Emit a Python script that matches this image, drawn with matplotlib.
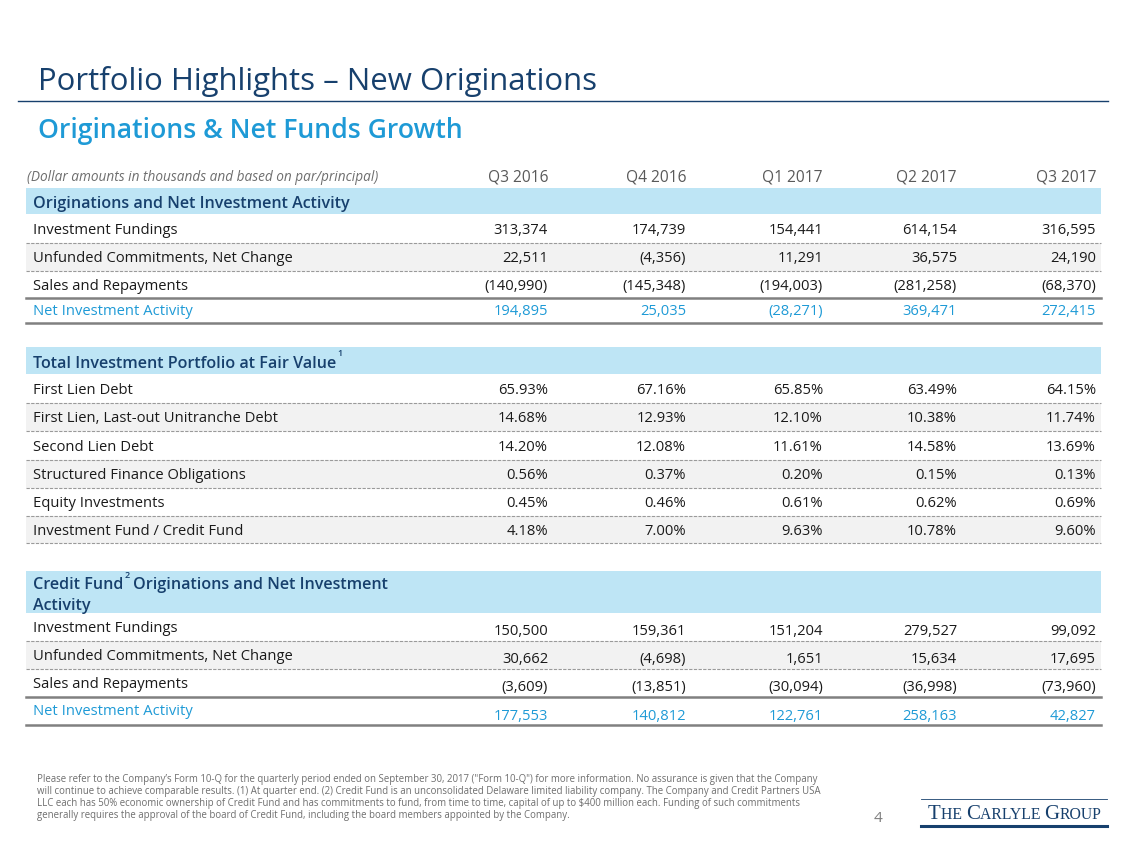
import matplotlib
matplotlib.use('Agg')
import matplotlib.pyplot as plt

# ---- data ----
quarters = ['Q3 2016', 'Q4 2016', 'Q1 2017', 'Q2 2017', 'Q3 2017']

orig_labels = ['Investment Fundings', 'Unfunded Commitments, Net Change', 'Sales and Repayments']
orig_fundings = [313374, 174739, 154441, 614154, 316595]
orig_unfunded = [22511, -4356, 11291, 36575, 24190]
orig_sales = [-140990, -145348, -194003, -281258, -68370]
orig_net = [194895, 25035, -28271, 369471, 272415]

port_labels = ['First Lien Debt', 'First Lien, Last-out Unitranche Debt', 'Second Lien Debt',
               'Structured Finance Obligations', 'Equity Investments', 'Investment Fund / Credit Fund']
first_lien = [65.93, 67.16, 65.85, 63.49, 64.15]
last_out = [14.68, 12.93, 12.10, 10.38, 11.74]
second_lien = [14.20, 12.08, 11.61, 14.58, 13.69]
structured = [0.56, 0.37, 0.20, 0.15, 0.13]
equity = [0.45, 0.46, 0.61, 0.62, 0.69]
credit_fund = [4.18, 7.00, 9.63, 10.78, 9.60]

cf_fundings = [150500, 159361, 151204, 279527, 99092]
cf_unfunded = [30662, -4698, 1651, 15634, 17695]
cf_sales = [-3609, -13851, -30094, -36998, -73960]
cf_net = [177553, 140812, 122761, 258163, 42827]

footnote = [
    "Please refer to the Company\u2019s Form 10-Q for the quarterly period ended on September 30, 2017 (\"Form 10-Q\") for more information. No assurance is given that the Company",
    "will continue to achieve comparable results. (1) At quarter end. (2) Credit Fund is an unconsolidated Delaware limited liability company. The Company and Credit Partners USA",
    "LLC each has 50% economic ownership of Credit Fund and has commitments to fund, from time to time, capital of up to $400 million each. Funding of such commitments",
    "generally requires the approval of the board of Credit Fund, including the board members appointed by the Company.",
]

# ---- style ----
plt.rcParams['font.family'] = ['Open Sans', 'DejaVu Sans']
NAVY = '#17406D'
BLUE = '#1E9AD6'
BAND = '#BEE5F5'
GREY_ROW = '#F2F2F2'
TXT = '#1A1A1A'
W, H = 1127, 846
LEFT, RIGHT = 26, 1101
COL_X = [548, 686, 823, 957, 1096]
FS = 10.6       # body font size
FS_HEAD = 11.6  # section header font size


def money(v):
    return '({:,})'.format(-v) if v < 0 else '{:,}'.format(v)


def pct(v):
    return '{:.2f}%'.format(v)


fig = plt.figure(figsize=(W / 100, H / 100), dpi=100)
ax = fig.add_axes([0, 0, 1, 1])
ax.set_xlim(0, W)
ax.set_ylim(H, 0)
ax.axis('off')
fig.canvas.draw()
rend = fig.canvas.get_renderer()


def right_edge(t):
    bb = t.get_window_extent(rend)
    return bb.x1


def band(y0, y1, color):
    ax.fill_between([LEFT, RIGHT], y0, y1, color=color, lw=0, zorder=0)


def hline(y, dashed=False):
    if dashed:
        ax.plot([LEFT, RIGHT], [y, y], color='#9A9A9A', lw=0.8, ls=(0, (3, 1.2)), zorder=2)
    else:
        ax.plot([LEFT, RIGHT], [y, y], color='#808080', lw=1.8, zorder=2)


def label(x, y, s, **kw):
    # y is the visual centre of the text line
    kw.setdefault('fontsize', FS)
    kw.setdefault('color', TXT)
    return ax.text(x, y + kw['fontsize'] * 0.5, s, va='baseline', **kw)


def rows(labels, series, fmt, top, heights, shade, val_dy=0):
    y = top
    for i, (lab, vals) in enumerate(zip(labels, series)):
        h = heights[i]
        if shade[i]:
            band(y, y + h, GREY_ROW)
        label(33, y + h / 2, lab)
        for x, v in zip(COL_X, vals):
            label(x, y + h / 2 + val_dy, fmt(v), ha='right')
        y += h
    return y


# title
label(38, 79, 'Portfolio Highlights \u2013 New Originations', fontsize=22.4, color=NAVY)
ax.plot([18, 1108], [101, 101], color=NAVY, lw=1)
label(38, 128, 'Originations & Net Funds Growth', fontsize=19.2, color=BLUE, fontweight='semibold')

# column header
label(27, 176, '(Dollar amounts in thousands and based on par/principal)', fontsize=9.8, color='#6E6E6E',
      style='italic')
for x, q in zip(COL_X, quarters):
    label(x, 176, q, fontsize=11.2, color='#595959', ha='right')

# section 1
band(188, 214, BAND)
label(33, 202, 'Originations and Net Investment Activity', fontsize=FS_HEAD, color=NAVY, fontweight='semibold')
y = rows(orig_labels, [orig_fundings, orig_unfunded, orig_sales], money, 214, [29, 28, 27],
         [False, True, False])
hline(243, True)
hline(271, True)
hline(y)
label(33, y + 12, 'Net Investment Activity', color=BLUE)
for x, v in zip(COL_X, orig_net):
    label(x, y + 12, money(v), color=BLUE, ha='right')
hline(y + 25)

# section 2
band(347, 374, BAND)
t = label(33, 362, 'Total Investment Portfolio at Fair Value', fontsize=FS_HEAD, color=NAVY, fontweight='semibold')
ax.text(right_edge(t) + 1, 356, '1', fontsize=6.5, color=NAVY, fontweight='semibold', va='baseline')
yy = 375
heights = [28, 28, 29, 28, 28, 27]
rows(port_labels, [first_lien, last_out, second_lien, structured, equity, credit_fund], pct, yy,
     heights, [False, True, False, True, False, True])
for h in heights:
    yy += h
    hline(yy, True)

# section 3
band(571, 613, BAND)
t = label(33, 583, 'Credit Fund', fontsize=FS_HEAD, color=NAVY, fontweight='semibold')
x2 = right_edge(t)
ax.text(x2 + 1, 578, '2', fontsize=6.5, color=NAVY, fontweight='semibold', va='baseline')
label(x2 + 10, 583, 'Originations and Net Investment', fontsize=FS_HEAD, color=NAVY, fontweight='semibold')
label(33, 604, 'Activity', fontsize=FS_HEAD, color=NAVY, fontweight='semibold')
y = rows(orig_labels, [cf_fundings, cf_unfunded, cf_sales], money, 613, [28, 28, 28],
         [False, True, False], val_dy=3)
hline(641, True)
hline(669, True)
hline(y)
label(33, y + 13, 'Net Investment Activity', color=BLUE)
for x, v in zip(COL_X, cf_net):
    label(x, y + 18, money(v), color=BLUE, ha='right')
hline(y + 28)

# footnote
for i, line in enumerate(footnote):
    label(37, 779 + 12 * i, line, fontsize=6.9, color='#6E6E6E')
label(878, 816, '4', fontsize=11, color='#7F7F7F', ha='center')

# logo
ax.plot([921, 1107], [799, 799], color=NAVY, lw=0.6)
ax.plot([921, 1107], [826, 826], color=NAVY, lw=2.2)
x = 928
for piece, size in [('T', 15), ('HE ', 11.3), ('C', 15), ('ARLYLE ', 11.3), ('G', 15), ('ROUP', 11.3)]:
    t = ax.text(x, 819, piece, fontsize=size, color=NAVY, family='Liberation Serif', va='baseline')
    bb = t.get_window_extent(rend)
    x += bb.width

fig.savefig('out.png', dpi=100)
